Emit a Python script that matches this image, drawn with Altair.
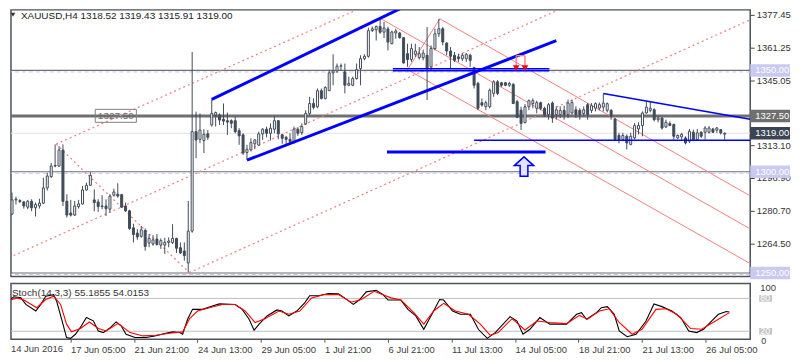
import altair as alt
import pandas as pd

FONT = "Liberation Sans"
CANDLE = "#414c5a"
BLUE = "#0000ff"
SALMON = "#ef7f7f"
GREY = "#6f6f6f"

# ---------------- candles (H4 bars, index 0..182) ----------------
O = [1279.1, 1286.1, 1285.8, 1285.1, 1282.5, 1285.4, 1282.2, 1283.1, 1284.5, 1292.0,
     1297.6, 1302.8, 1302.8, 1310.7, 1285.4, 1279.6, 1278.6, 1282.8, 1284.1, 1291.0,
     1293.3, 1286.1, 1285.1, 1283.1, 1283.1, 1281.5, 1288.4, 1288.9, 1288.7, 1283.1,
     1280.7, 1272.3, 1269.7, 1268.1, 1271.0, 1264.8, 1264.3, 1266.8, 1263.8, 1263.8,
     1265.1, 1265.1, 1267.1, 1262.5, 1260.9, 1255.0, 1270.7, 1319.8, 1316.0, 1315.4,
     1318.7, 1323.1, 1328.0, 1328.0, 1325.9, 1325.2, 1325.2, 1325.2, 1320.3, 1318.2,
     1309.5, 1310.8, 1313.8, 1313.1, 1318.7, 1321.0, 1319.0, 1321.0, 1325.2, 1318.2,
     1317.0, 1316.0, 1314.9, 1321.0, 1319.3, 1323.6, 1328.8, 1333.7, 1332.1, 1340.0,
     1336.2, 1340.0, 1348.8, 1349.8, 1352.1, 1349.3, 1342.7, 1342.7, 1346.0, 1350.9,
     1355.8, 1357.0, 1369.7, 1370.1, 1371.7, 1368.9, 1370.5, 1363.2, 1368.5, 1368.5,
     1366.2, 1358.3, 1355.4, 1358.0, 1356.3, 1356.3, 1357.5, 1351.8, 1360.8, 1368.1,
     1370.6, 1363.5, 1359.6, 1357.5, 1356.7, 1355.8, 1355.8, 1357.5, 1351.4, 1343.6,
     1334.1, 1332.1, 1332.1, 1338.7, 1344.4, 1343.9, 1343.9, 1342.7, 1343.2, 1334.6,
     1330.4, 1324.3, 1332.1, 1333.7, 1331.3, 1334.1, 1331.3, 1328.2, 1333.9, 1328.2,
     1328.2, 1330.3, 1328.2, 1329.0, 1330.6, 1330.3, 1328.7, 1333.1, 1330.3, 1331.4,
     1331.4, 1331.9, 1330.3, 1330.3, 1326.0, 1317.9, 1315.9, 1317.5, 1313.5, 1316.7,
     1321.1, 1322.8, 1329.0, 1330.3, 1330.6, 1325.7, 1326.5, 1322.1, 1323.8, 1323.3,
     1316.7, 1317.2, 1316.7, 1315.1, 1319.5, 1315.9, 1319.5, 1319.5, 1319.5, 1321.1,
     1320.5, 1320.8, 1318.52]
H = [1289.7, 1287.7, 1286.4, 1285.6, 1286.1, 1286.4, 1284.8, 1286.7, 1297.0, 1299.5,
     1304.4, 1313.5, 1312.6, 1313.5, 1288.9, 1286.1, 1285.6, 1286.1, 1293.0, 1294.6,
     1299.8, 1291.3, 1286.4, 1288.4, 1286.4, 1288.9, 1291.6, 1294.3, 1288.9, 1284.8,
     1281.2, 1274.3, 1271.7, 1273.3, 1272.0, 1269.2, 1268.7, 1269.2, 1267.1, 1267.4,
     1267.6, 1274.1, 1267.4, 1265.1, 1265.1, 1285.6, 1359.1, 1329.7, 1328.8, 1321.0,
     1320.6, 1335.7, 1329.7, 1328.8, 1333.7, 1329.2, 1325.9, 1327.2, 1321.5, 1319.0,
     1313.3, 1316.5, 1316.0, 1319.8, 1321.5, 1322.3, 1323.9, 1327.5, 1325.5, 1318.7,
     1317.7, 1319.0, 1322.3, 1322.0, 1323.9, 1330.4, 1337.0, 1336.2, 1341.1, 1341.1,
     1342.2, 1350.4, 1358.0, 1353.4, 1353.4, 1353.4, 1346.9, 1346.9, 1353.4, 1357.5,
     1358.0, 1371.1, 1371.7, 1372.2, 1376.0, 1374.0, 1371.6, 1369.7, 1370.6, 1369.0,
     1366.5, 1363.2, 1363.2, 1363.2, 1361.6, 1360.3, 1371.4, 1362.4, 1370.6, 1375.5,
     1371.4, 1364.0, 1361.6, 1359.1, 1358.3, 1358.6, 1358.6, 1358.3, 1351.8, 1344.4,
     1336.2, 1335.1, 1341.1, 1345.2, 1345.2, 1344.4, 1344.4, 1344.4, 1343.6, 1335.4,
     1332.1, 1333.4, 1335.7, 1336.2, 1335.1, 1334.6, 1332.1, 1333.9, 1334.7, 1332.3,
     1332.3, 1332.6, 1335.6, 1335.6, 1332.3, 1331.4, 1332.3, 1333.9, 1333.9, 1334.2,
     1334.2, 1338.5, 1334.2, 1330.9, 1326.5, 1319.2, 1319.2, 1318.4, 1319.2, 1324.1,
     1324.4, 1329.8, 1334.7, 1334.7, 1331.4, 1327.4, 1327.0, 1325.7, 1324.9, 1323.8,
     1318.4, 1319.2, 1317.5, 1321.1, 1320.8, 1321.1, 1320.0, 1322.5, 1322.5, 1321.6,
     1322.1, 1321.1, 1319.43]
L = [1278.6, 1283.8, 1284.5, 1281.8, 1281.5, 1280.5, 1277.9, 1281.8, 1284.0, 1290.7,
     1296.9, 1302.2, 1302.5, 1283.1, 1277.4, 1277.9, 1278.2, 1281.8, 1283.8, 1290.7,
     1293.0, 1280.5, 1280.2, 1281.5, 1278.2, 1279.8, 1287.7, 1287.2, 1282.2, 1280.2,
     1271.3, 1265.1, 1266.4, 1267.4, 1261.0, 1262.7, 1263.5, 1263.5, 1261.9, 1259.4,
     1262.7, 1264.3, 1259.9, 1259.4, 1256.1, 1250.4, 1269.9, 1306.7, 1314.1, 1309.2,
     1315.7, 1322.3, 1322.3, 1323.1, 1323.1, 1318.2, 1321.5, 1319.0, 1313.3, 1308.3,
     1305.9, 1310.0, 1311.1, 1312.8, 1315.7, 1317.0, 1315.4, 1319.0, 1316.0, 1313.8,
     1313.3, 1313.3, 1313.8, 1317.7, 1318.2, 1323.1, 1328.0, 1330.8, 1331.3, 1335.7,
     1335.7, 1339.9, 1342.7, 1348.8, 1349.8, 1338.7, 1342.2, 1342.2, 1345.5, 1342.7,
     1355.0, 1356.3, 1369.0, 1364.8, 1368.1, 1366.0, 1359.9, 1362.9, 1365.7, 1365.7,
     1353.4, 1351.8, 1354.2, 1356.7, 1355.4, 1355.0, 1335.4, 1350.1, 1359.9, 1366.5,
     1362.4, 1357.5, 1350.9, 1354.2, 1354.2, 1354.7, 1354.2, 1351.8, 1341.1, 1330.4,
     1332.1, 1330.4, 1331.3, 1337.0, 1337.8, 1341.9, 1342.2, 1341.9, 1333.4, 1326.4,
     1320.6, 1323.9, 1330.4, 1331.3, 1328.8, 1330.4, 1327.2, 1325.7, 1324.1, 1325.7,
     1326.5, 1325.7, 1326.5, 1328.2, 1326.5, 1325.7, 1327.4, 1325.7, 1329.0, 1329.8,
     1330.3, 1329.8, 1329.3, 1325.7, 1315.1, 1314.0, 1315.1, 1311.0, 1313.0, 1315.9,
     1318.4, 1317.5, 1328.7, 1329.3, 1324.9, 1324.4, 1320.8, 1321.6, 1322.5, 1315.9,
     1316.2, 1315.9, 1313.5, 1314.2, 1315.1, 1315.6, 1316.7, 1315.9, 1318.9, 1319.2,
     1319.2, 1318.4, 1315.91]
C = [1286.1, 1286.5, 1285.3, 1283.1, 1285.4, 1282.2, 1283.8, 1284.5, 1292.0, 1297.9,
     1302.8, 1303.1, 1310.7, 1285.4, 1278.6, 1278.6, 1283.1, 1284.1, 1291.0, 1293.3,
     1298.2, 1284.8, 1282.8, 1282.8, 1281.8, 1288.0, 1290.0, 1288.0, 1282.5, 1280.7,
     1272.0, 1269.0, 1267.8, 1271.3, 1263.1, 1267.1, 1266.4, 1264.1, 1266.0, 1265.1,
     1265.8, 1267.1, 1262.2, 1259.9, 1258.6, 1270.7, 1319.8, 1315.7, 1320.6, 1318.5,
     1317.0, 1328.8, 1329.2, 1325.5, 1325.0, 1324.5, 1323.9, 1319.8, 1317.7, 1309.2,
     1311.1, 1314.4, 1315.7, 1318.7, 1321.0, 1319.0, 1321.5, 1325.2, 1318.7, 1316.5,
     1316.0, 1314.9, 1321.0, 1319.0, 1322.3, 1328.8, 1333.7, 1331.8, 1340.0, 1336.2,
     1341.6, 1348.8, 1349.8, 1352.1, 1352.3, 1342.7, 1343.6, 1346.0, 1350.4, 1355.8,
     1357.0, 1369.7, 1370.6, 1371.7, 1368.9, 1371.0, 1364.0, 1369.0, 1369.5, 1366.2,
     1353.7, 1355.4, 1360.8, 1359.6, 1358.3, 1358.6, 1350.9, 1360.8, 1368.1, 1370.6,
     1364.0, 1359.6, 1357.0, 1355.0, 1355.8, 1357.5, 1358.0, 1355.0, 1342.7, 1331.3,
     1332.9, 1334.1, 1340.3, 1344.4, 1338.7, 1342.7, 1342.7, 1343.6, 1333.7, 1326.9,
     1323.9, 1332.1, 1335.1, 1335.1, 1334.1, 1331.3, 1328.0, 1333.1, 1326.5, 1330.6,
     1330.3, 1328.2, 1333.9, 1334.2, 1328.2, 1328.2, 1330.6, 1328.2, 1332.6, 1333.6,
     1333.1, 1333.9, 1333.6, 1327.4, 1315.9, 1315.9, 1317.9, 1314.2, 1317.5, 1322.8,
     1322.8, 1329.0, 1331.9, 1331.4, 1325.7, 1326.5, 1321.6, 1324.4, 1322.8, 1317.5,
     1317.9, 1318.4, 1314.2, 1320.0, 1315.9, 1319.2, 1317.5, 1321.6, 1321.6, 1319.5,
     1321.6, 1319.2, 1319.00]

# ---------------- stochastic (14,3,3) ----------------
K_X = [0, 1.75, 3.5, 4.75, 7.25, 8.5, 9.75, 11.75, 12.5, 13.75, 15, 16, 17.25, 18.75, 20,
       21.75, 23, 24.25, 26, 27.5, 28.75, 30, 32.25, 35, 37.25, 40, 41.75, 43.5, 44.25, 45.5,
       46.75, 49.25, 51.75, 53.5, 57.5, 59.25, 61, 62.25, 63.5, 65.5, 68, 69.25, 71, 73, 75,
       76.25, 78.5, 81, 83.5, 85, 87.25, 88.75, 90.5, 93, 94.75, 96, 99.25, 101, 103, 105,
       107.25, 109, 110, 112.25, 114.25, 116.75, 118.75, 121, 123, 126.75, 128.5, 130, 131.75,
       134.25, 136.75, 141, 143.5, 144.75, 146, 148.5, 149.75, 151.25, 153, 154.25, 156.25,
       158.5, 161, 163, 165, 167.5, 169.75, 171.75, 173.75, 175.5, 177.5, 179.25, 181.25, 182]
K_V = [75, 83, 81, 69, 57, 69, 84, 87, 75, 42, 8.5, 7, 14.5, 30, 45, 39, 20.5, 17.6, 26.7, 37,
       30, 14.5, 8.5, 8.5, 11.5, 16.4, 18.8, 17.6, 14.5, 42, 60, 60, 66, 70, 69, 60, 42, 22, 33,
       48, 59, 57, 48, 57, 72, 85, 85, 89, 88.5, 81, 69, 77, 92, 95, 87, 77, 77, 60, 48, 23.6,
       54, 78, 77, 57, 51, 51, 23.6, 7, 17.6, 46.7, 38.7, 14.5, 23.6, 45, 33, 33, 51, 54, 42,
       54, 63, 65, 51, 20.5, 10, 14.5, 38.7, 70, 65, 57, 45, 20.5, 17.6, 23.6, 38.7, 51, 56, 55.19]
D_X = [0, 2.5, 4.25, 7.5, 9.75, 11.75, 13.5, 15, 16.25, 18.5, 20.75, 23, 25, 28, 31, 34.25,
       37.5, 41, 44.25, 46, 48, 51, 54.25, 57.5, 60, 62.5, 65, 68.5, 71, 73.75, 76.75, 80, 83.5,
       86.75, 89.25, 92.5, 96.75, 99.25, 102.5, 105, 107.5, 110, 113, 116.25, 119.25, 121.75,
       123.75, 127.25, 130.5, 133.5, 136.75, 141, 144.25, 146.25, 149.25, 151.75, 154.25,
       157.5, 160, 163.5, 166, 168.75, 172.25, 175, 178.5, 182]
D_V = [75, 81, 77, 63, 78, 84, 69, 33, 19, 25, 37, 25, 20.5, 34.5, 17.6, 11.5, 12.7, 16.4,
       18.8, 43, 57, 63, 69, 69, 57, 36, 43, 57, 51, 57, 81, 87, 87, 73, 78, 93, 81, 77, 54,
       33, 57, 71, 57, 51, 33, 12.7, 17.6, 43, 22.4, 38.7, 36, 34, 49, 42, 57, 61, 36, 14.5,
       23.6, 60, 61, 51, 25, 23.6, 38.7, 54.02]

# ---------------- axes / levels ----------------
PRICE_TICKS = [1377.45, 1361.25, 1345.05, 1313.10, 1296.90, 1280.70, 1264.50]
TIME_TICKS = [16, 32, 48, 64, 80, 96, 112, 128, 144, 160, 176]
TIME_LABELS = ["17 Jun 05:00", "21 Jun 21:00", "24 Jun 13:00", "29 Jun 05:00", "1 Jul 21:00",
               "6 Jul 21:00", "11 Jul 13:00", "14 Jul 05:00", "18 Jul 21:00", "21 Jul 13:00",
               "26 Jul 05:00"]
FIRST_LABEL = "14 Jun 2016"
THIN_LEVELS = [1350.0, 1300.0, 1250.0]
THICK_LEVEL = [1327.5]
BID_LEVEL = [1319.0]
BOX_PRICES = [1350.0, 1327.5, 1319.0, 1300.0, 1250.0]
BOX_TEXT = ["1350.00", "1327.50", "1319.00", "1300.00", "1250.00"]
BOX_BG = ["#c9c9f2", "#6f6f6f", "#3a4452", "#c9c9f2", "#c9c9f2"]

# drawing objects: (bar index, price) end points
DOT_X1 = [11.25, -0.75, 45.25, 11.25]
DOT_P1 = [1313.6, 1257.6, 1250.2, 1313.6]
DOT_X2 = [92.5, 144.0, 188.5, 45.25]
DOT_P2 = [1383.8, 1383.8, 1375.0, 1250.2]
RED_X1 = [94.25, 109.25, 101.0, 101.0]
RED_P1 = [1375.5, 1375.5, 1350.4, 1350.4]
RED_X2 = [188.5, 188.5, 188.5, 109.25]
RED_P2 = [1271.8, 1288.1, 1254.7, 1375.5]
BT_X1 = [51.0, 60.0, 95.75]
BT_P1 = [1335.7, 1305.7, 1309.7]
BT_X2 = [99.0, 139.0, 136.25]
BT_P2 = [1380.4, 1364.7, 1309.7]
BN_X1 = [118.0, 97.25, 97.25, 151.0]
BN_P1 = [1315.6, 1350.9, 1349.8, 1338.65]
BN_X2 = [188.5, 137.25, 137.25, 188.5]
BN_P2 = [1315.6, 1350.9, 1349.8, 1325.9]
ARROW_X = [128.75, 131.0]
ARROW_TOP = [1357.3, 1357.3]
ARROW_BOT = [1351.9, 1351.9]
ARROW_TIP = [1351.2, 1351.2]
UP_ARROW_X = [130.75]
UP_ARROW_P = [1302.55]
TAG_X1, TAG_X2, TAG_P1, TAG_P2 = [21.25], [31.75], [1324.4], [1330.8]
TAG_TEXT = ["1327.50"]

W = 743
H_MAIN = 268
H_STO = 56

xs = alt.Scale(domain=[1, 187.25], nice=False, zero=False)
ys = alt.Scale(domain=[1248.27, 1379.91], nice=False, zero=False)
ss = alt.Scale(domain=[5.5, 107.3], nice=False, zero=False)

price_axis = alt.Axis(orient="right", values=PRICE_TICKS, format=".2f", title=None,
                      labelFont=FONT, labelFontSize=9.5, labelColor="#333333",
                      tickSize=4, tickColor="#444444", domain=False, grid=False,
                      labelPadding=2, labelOverlap=False, labelFlush=False)
label_expr = "[" + ",".join("'%s'" % s for s in TIME_LABELS) + "][round((datum.value-16)/16)]"
time_axis = alt.Axis(values=TIME_TICKS, labelExpr=label_expr, title=None, labelAlign="left",
                     labelFont=FONT, labelFontSize=9.5, labelColor="#3c3c3c", tickSize=3,
                     tickColor="#555555", domain=False, grid=False, labelPadding=2,
                     labelOverlap=False, labelFlush=False)


def PX(f):
    return alt.X(f, type="quantitative", scale=xs, axis=None)


def PY(f):
    return alt.Y(f, type="quantitative", scale=ys, axis=price_axis)


bars = pd.DataFrame({"i": list(range(len(C))), "o": O, "h": H, "l": L, "c": C})
bars["up"] = bars["c"] >= bars["o"]


def segs(x1, p1, x2, p2):
    return pd.DataFrame({"a": x1, "pa": p1, "b": x2, "pb": p2})


def seg_layer(df, **mk):
    return alt.Chart(df).mark_rule(clip=True, **mk).encode(
        x=PX("a"), x2="b", y=PY("pa"), y2="pb")


thin = alt.Chart(pd.DataFrame({"p": THIN_LEVELS})).mark_rule(color=GREY, strokeWidth=1.2).encode(
    y=PY("p"))
thin_dash = alt.Chart(pd.DataFrame({"p": THIN_LEVELS})).mark_rule(
    color="#c6c6ee", strokeWidth=1, strokeDash=[4, 3], yOffset=1.5).encode(y=PY("p"))
thick = alt.Chart(pd.DataFrame({"p": THICK_LEVEL})).mark_rule(color=GREY, strokeWidth=3).encode(
    y=PY("p"))
bid = alt.Chart(pd.DataFrame({"p": BID_LEVEL})).mark_rule(color="#e2e2e2", strokeWidth=1).encode(
    y=PY("p"))

dotted = seg_layer(segs(DOT_X1, DOT_P1, DOT_X2, DOT_P2), color=SALMON, strokeWidth=1.2,
                   strokeDash=[2, 3])
red = seg_layer(segs(RED_X1, RED_P1, RED_X2, RED_P2), color="#f08080", strokeWidth=1)

wicks = alt.Chart(bars).mark_rule(color=CANDLE, strokeWidth=1, clip=True).encode(
    x=PX("i"), y=PY("l"), y2="h")
bodies = alt.Chart(bars).mark_bar(size=2, stroke=CANDLE, strokeWidth=1, clip=True).encode(
    x=PX("i"), y=PY("o"), y2="c",
    fill=alt.condition("datum.up", alt.value("white"), alt.value(CANDLE)))

blue_thick = seg_layer(segs(BT_X1, BT_P1, BT_X2, BT_P2), color=BLUE, strokeWidth=3)
blue_thin = seg_layer(segs(BN_X1, BN_P1, BN_X2, BN_P2), color=BLUE, strokeWidth=1.5)

arr = pd.DataFrame({"x": ARROW_X, "t": ARROW_TOP, "b": ARROW_BOT, "tip": ARROW_TIP})
arrow_stems = alt.Chart(arr).mark_rule(color="#ff6f6f", strokeWidth=1.3).encode(
    x=PX("x"), y=PY("t"), y2="b")
arrow_top = alt.Chart(pd.DataFrame({"a": [ARROW_X[0]], "b": [ARROW_X[1]], "p": [ARROW_TOP[0]]})
                      ).mark_rule(color="#ff8a60", strokeWidth=1.3).encode(
    x=PX("a"), x2="b", y=PY("p"))
arrow_tips = alt.Chart(arr).mark_point(shape="triangle-down", filled=True, color="#ff0000",
                                       size=45, opacity=1).encode(x=PX("x"), y=PY("tip"))
up_arrow = alt.Chart(pd.DataFrame({"x": UP_ARROW_X, "p": UP_ARROW_P})).mark_point(
    shape="M0,-1L1,-0.1L0.4,-0.1L0.4,1L-0.4,1L-0.4,-0.1L-1,-0.1Z",
    fill="#e4e4ff", stroke=BLUE, strokeWidth=1.5, size=380, opacity=1, fillOpacity=1).encode(
    x=PX("x"), y=PY("p"))

tag_df = pd.DataFrame({"a": TAG_X1, "b": TAG_X2, "pa": TAG_P1, "pb": TAG_P2, "t": TAG_TEXT,
                       "xm": [(TAG_X1[0] + TAG_X2[0]) / 2], "pm": THICK_LEVEL})
tag_box = alt.Chart(tag_df).mark_rect(fillOpacity=0, stroke="#808080", strokeWidth=1).encode(
    x=PX("a"), x2="b", y=PY("pa"), y2="pb")
tag_text = alt.Chart(tag_df).mark_text(font=FONT, fontSize=10, color="#6a6a6a").encode(
    x=PX("xm"), y=PY("pm"), text="t:N")

box_df = pd.DataFrame({"p": BOX_PRICES, "t": BOX_TEXT, "bg": BOX_BG})
boxes = alt.Chart(box_df).transform_calculate(
    top="datum.p + 3.1", bot="datum.p - 3.1").mark_rect(clip=False).encode(
    x=alt.value(W), x2=alt.value(W + 40), y=PY("top"), y2="bot",
    fill=alt.Color("bg:N", scale=None))
box_text = alt.Chart(box_df).mark_text(align="left", baseline="middle", font=FONT,
                                       fontSize=9.5, color="white").encode(
    x=alt.value(W + 5), y=PY("p"), text="t:N")

title_df = pd.DataFrame({"t": ["XAUUSD,H4  1318.52 1319.43 1315.91 1319.00"]})
title = alt.Chart(title_df).mark_text(align="left", baseline="middle", font=FONT,
                                      fontSize=10, color="#222222").encode(
    x=alt.value(10), y=alt.value(6), text="t:N")
title_tri = alt.Chart(title_df).mark_point(shape="triangle-down", filled=True,
                                           color="#333333", size=22, opacity=1).encode(
    x=alt.value(2), y=alt.value(5))

main = alt.layer(
    thin, thin_dash, thick, bid, dotted, red, wicks, bodies, blue_thick, blue_thin,
    arrow_stems, arrow_top, arrow_tips, up_arrow, tag_box, tag_text, boxes, box_text,
    title, title_tri
).properties(width=W, height=H_MAIN)

# ---------------- stochastic panel ----------------
def SX(f):
    return alt.X(f, type="quantitative", scale=xs, axis=time_axis)


def SY(f):
    return alt.Y(f, type="quantitative", scale=ss, axis=None)


kdf = pd.DataFrame({"x": K_X, "v": K_V})
ddf = pd.DataFrame({"x": D_X, "v": D_V})
sto_levels = alt.Chart(pd.DataFrame({"v": [80, 20]})).mark_rule(color="#bdbdbd").encode(
    y=SY("v"))
kline = alt.Chart(kdf).mark_line(color="black", strokeWidth=1.1, clip=True).encode(
    x=SX("x"), y=SY("v"))
dline = alt.Chart(ddf).mark_line(color="#ff0000", strokeWidth=1.1, clip=True).encode(
    x=SX("x"), y=SY("v"))

lv_df = pd.DataFrame({"v": [80, 20], "t": ["80", "20"]})
lv_box = alt.Chart(lv_df).transform_calculate(
    top="datum.v + 6", bot="datum.v - 6").mark_rect(clip=False, color="#c4c4c4").encode(
    x=alt.value(W + 9), x2=alt.value(W + 22), y=SY("top"), y2="bot")
lv_text = alt.Chart(lv_df).mark_text(align="left", baseline="middle", font=FONT, fontSize=9,
                                     color="white").encode(
    x=alt.value(W + 10), y=SY("v"), text="t:N")
top_text = alt.Chart(pd.DataFrame({"t": ["100"]})).mark_text(
    align="left", baseline="middle", font=FONT, fontSize=9.5, color="#3c3c3c").encode(
    x=alt.value(W + 10), y=alt.value(5), text="t:N")
bot_text = alt.Chart(pd.DataFrame({"t": ["0"]})).mark_text(
    align="left", baseline="middle", font=FONT, fontSize=9, color="#3c3c3c").encode(
    x=alt.value(W + 11), y=alt.value(58), text="t:N")
sto_title = alt.Chart(pd.DataFrame({"t": ["Stoch(14,3,3) 55.1855 54.0153"]})).mark_text(
    align="left", baseline="middle", font=FONT, fontSize=10, color="#333333").encode(
    x=alt.value(1), y=alt.value(10), text="t:N")
first_label = alt.Chart(pd.DataFrame({"t": [FIRST_LABEL]})).mark_text(
    align="left", baseline="top", font=FONT, fontSize=9.5, color="#3c3c3c").encode(
    x=alt.value(0), y=alt.value(H_STO + 5), text="t:N")

sto = alt.layer(sto_levels, kline, dline, lv_box, lv_text, top_text, bot_text, sto_title,
                first_label).properties(width=W, height=H_STO)

chart = alt.vconcat(main, sto, spacing=2).properties(
    padding=0, background="white"
).configure_view(stroke="#4b535c", strokeWidth=1.5)

chart.save("out.html", embed_options={"renderer": "svg", "actions": False})
